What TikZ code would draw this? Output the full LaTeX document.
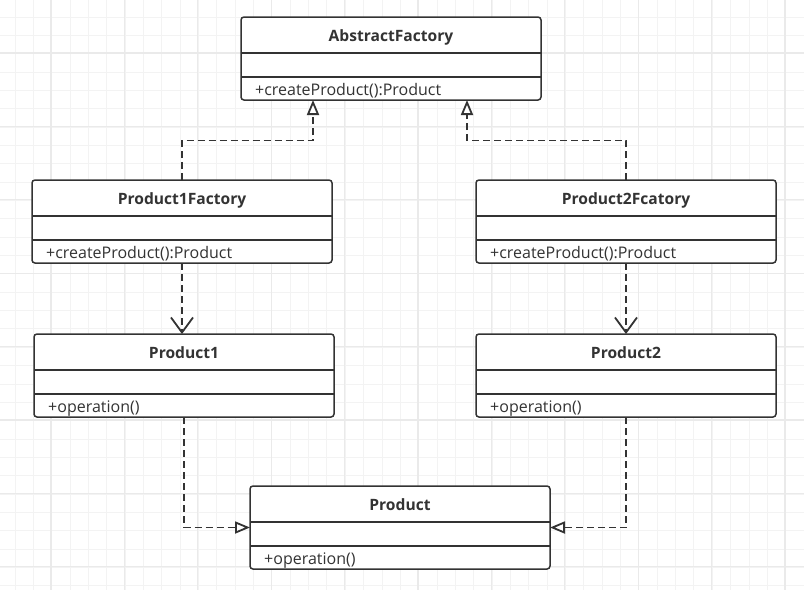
\documentclass[tikz,border=0pt]{standalone}
\usepackage{fontspec}
\setmainfont{Open Sans}
\usetikzlibrary{arrows.meta,calc}
\definecolor{ink}{HTML}{333333}
\definecolor{gridminor}{HTML}{F3F3F3}
\definecolor{gridmajor}{HTML}{EAEAEA}
\newcommand\umlclass[5]{%
  \node[cls] (#1) at (#2,#3) {};
  \draw[sep] ($(#1.north west)+(0,36)$) -- ($(#1.north east)+(0,36)$);
  \draw[sep] ($(#1.north west)+(0,60)$) -- ($(#1.north east)+(0,60)$);
  \node[titletext] (#1t) at ($(#1.north)+(0,24)$) {#4};
  \node[membertext] (#1m) at ($(#1.south west)+(14,-5)$) {#5};
}
\begin{document}
\begin{tikzpicture}[x=1pt,y=-1pt,
  cls/.style={draw=ink, line width=1.5pt, rounded corners=3pt, fill=white,
    minimum width=300pt, minimum height=83pt, inner sep=0pt, outer sep=0pt},
  sep/.style={draw=ink, line width=1.5pt},
  titletext/.style={font=\bfseries\fontsize{15.6}{18}\selectfont, text=ink, anchor=base, inner sep=0pt},
  membertext/.style={font=\fontsize{16}{18}\selectfont, text=ink, anchor=base west, inner sep=0pt},
  dep/.style={draw=ink, line width=1.9pt, dash pattern=on 7pt off 4pt},
  realize/.style={dep, -{Triangle[fill=white, length=15pt, width=12pt, line width=1.8pt]}},
  uses/.style={dep, -{Straight Barb[length=15pt, width=22pt, line width=1.8pt]}}
]
\useasboundingbox (0,0) rectangle (804,590);
\fill[white] (0,0) rectangle (804,590);
% grid
\foreach \k in {0,...,43} {\draw[gridminor, line width=1pt] ({15+18.35*\k},0) -- ({15+18.35*\k},590);}
\foreach \k in {0,...,31} {\draw[gridminor, line width=1pt] (0,{17+18.35*\k}) -- (804,{17+18.35*\k});}
\foreach \k in {0,...,10} {\draw[gridmajor, line width=1.2pt] ({51+73.4*\k},0) -- ({51+73.4*\k},590);}
\foreach \k in {0,...,7} {\draw[gridmajor, line width=1.2pt] (0,{53+73.4*\k}) -- (804,{53+73.4*\k});}
% classes
\umlclass{af}{391}{58.5}{AbstractFactory}{+createProduct():Product}
\umlclass{pf1}{182}{221.5}{Product1Factory}{+createProduct():Product}
\umlclass{pf2}{626}{221.5}{Product2Fcatory}{+createProduct():Product}
\umlclass{pa}{184}{375.5}{Product1}{+operation()}
\umlclass{pb}{626}{375.5}{Product2}{+operation()}
\umlclass{prod}{400}{527.5}{Product}{+operation()}
% connectors
\coordinate (afL) at ($(af.south)+(-78,0)$);
\coordinate (afR) at ($(af.south)+(76,0)$);
\coordinate (midy) at (0,140.5);
\draw[realize] (pf1.north) -- (pf1.north |- midy) -| (afL);
\draw[realize] (pf2.north) -- (pf2.north |- midy) -| (afR);
\draw[uses] (pf1.south) -- (pf1.south |- pa.north);
\draw[uses] (pf2.south) -- (pf2.south |- pb.north);
\draw[realize] (pa.south) |- (prod.west);
\draw[realize] (pb.south) |- (prod.east);
\end{tikzpicture}
\end{document}
